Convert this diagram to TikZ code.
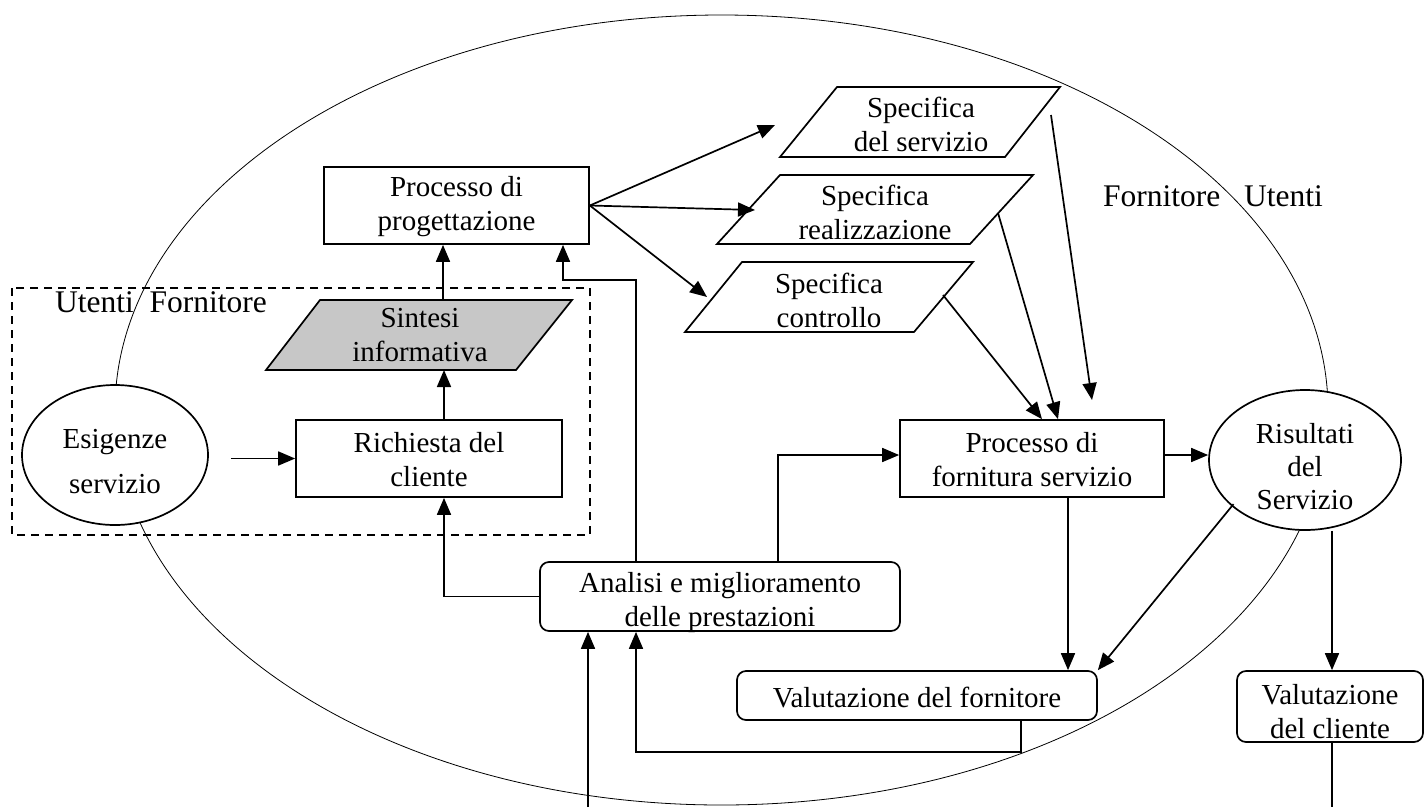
\documentclass[tikz,border=0pt]{standalone}
\usepackage{fontspec}
\setmainfont{Liberation Serif}
\usetikzlibrary{arrows.meta,shapes.geometric,calc}
\begin{document}
\begin{tikzpicture}[x=1pt,y=-1pt,
  font=\fontsize{29}{34}\selectfont,
  procbox/.style={draw,line width=1.7pt,rectangle,fill=white,inner sep=0pt},
  roundbox/.style={procbox,rounded corners=9pt},
  oval/.style={draw,line width=1.7pt,ellipse,fill=white,inner sep=0pt},
  para/.style={draw,line width=1.7pt,line join=miter},
  txt/.style={inner sep=0pt,align=center},
  biglbl/.style={inner sep=0pt,anchor=base west,font=\fontsize{31.5}{36}\selectfont},
  link/.style={line width=1.7pt},
  arr/.style={link,-{Triangle[length=17pt,width=14pt]}}
]
\useasboundingbox (0,0) rectangle (1424,807);

% outer boundary
\draw[line width=0.8pt] (721.5,410) ellipse [x radius=606.5pt, y radius=395pt];

% dashed region around the customer side
\draw[line width=1.5pt,dash pattern=on 8pt off 6pt] (12,288) rectangle (590,535);
\node[biglbl] (lblL) at (55,312) {Utenti\ \ Fornitore};
\node[biglbl] (lblR) at (1103,206) {Fornitore\ \ \ Utenti};

% main blocks
\node[procbox,minimum width=265pt,minimum height=77pt] (pp) at (456.5,205.5) {};
\node[txt] at ([yshift=-1pt]pp.center) {Processo di\\progettazione};
\node[procbox,minimum width=266pt,minimum height=77pt] (rc) at (429,458.5) {};
\node[txt] at ([yshift=-1pt]rc.center) {Richiesta del\\cliente};
\node[procbox,minimum width=264pt,minimum height=77pt] (pf) at (1032,458.5) {};
\node[txt] at ([yshift=-1pt]pf.center) {Processo di\\fornitura servizio};
\node[roundbox,minimum width=360pt,minimum height=69pt] (an) at (720,596.5) {};
\node[txt] at ([yshift=-6pt]an.center) {Analisi e miglioramento\\delle prestazioni};
\node[roundbox,minimum width=360pt,minimum height=49pt] (vf) at (917,695.5) {};
\node[txt] at ([yshift=-2pt]vf.center) {Valutazione del fornitore};
\node[roundbox,minimum width=186pt,minimum height=71pt] (vc) at (1330,706.5) {};
\node[txt] at ([yshift=-5pt]vc.center) {Valutazione\\del cliente};

\node[oval,minimum width=186pt,minimum height=140pt] (es) at (115,455) {};
\node[txt] at ([yshift=-7pt]es.center) {Esigenze\\[11pt]servizio};
\node[oval,minimum width=192pt,minimum height=140pt] (rs) at (1305,460) {};
\node[txt,font=\fontsize{29}{33}\selectfont] at ([yshift=-7pt]rs.center) {Risultati\\del\\Servizio};

% information documents (parallelograms)
\draw[para,fill=black!22] (320,300) -- (572,300) -- (516,370) -- (266,370) -- cycle;
\node[txt] (si) at (420,335) {Sintesi\\informativa};
\draw[para] (837,87) -- (1060,87) -- (1005,157) -- (780,157) -- cycle;
\node[txt] (ss) at (921,124) {Specifica\\del servizio};
\draw[para] (780,175) -- (1033,175) -- (970,244) -- (717,244) -- cycle;
\node[txt] (sr) at (875,212.5) {Specifica\\realizzazione};
\draw[para] (742,262) -- (973,262) -- (914,332) -- (685,332) -- cycle;
\node[txt] (sc) at (829,300) {Specifica\\controllo};

% connection points on the parallelograms
\coordinate (siN) at (443,300);
\coordinate (siS) at (444,370);
\coordinate (ssIn) at (775,125);
\coordinate (srIn) at (755,210);
\coordinate (scIn) at (707,297);
\coordinate (ssOut) at (1051,115);
\coordinate (srOut) at (998,213);
\coordinate (scOut) at (943,295);
\coordinate (bottomIn) at (588,807);
\coordinate (bottomOut) at (1332,807);

% flows
\draw[arr] (es.east |- rc.west) ++(22,0) -- (rc.west);
\draw[arr] (rc.north -| siS) -- (siS);
\draw[arr] (siN) -- (pp.south -| siN);
\draw[arr] (an.west) -| (rc.south -| siS);
\draw[arr] (an.north -| 636,0) |- (563,280) -- (pp.south -| 563,0);
\draw[arr] (an.north -| 778,0) |- (pf.west |- 0,455);
\draw[arr] (pp.east) -- (ssIn);
\draw[arr] (pp.east) -- (srIn);
\draw[arr] (pp.east) -- (scIn);
\draw[arr] (ssOut) -- (1092,400);
\draw[arr] (srOut) -- (pf.north -| 1058,0);
\draw[arr] (scOut) -- (pf.north -| 1042,0);
\draw[arr] (pf.east |- 0,455) -- (rs.west |- 0,455);
\draw[arr] (pf.south -| 1068,0) -- (vf.north -| 1068,0);
\draw[arr] (rs.south west) ++(-3,-6) -- (vf.north east);
\draw[arr] (rs.south -| 1332,0) -- (vc.north -| 1332,0);
\draw[link] (vc.south -| bottomOut) -- (bottomOut);
\draw[arr] (vf.south -| 1021,0) -- (1021,752) -| (an.south -| 636,0);
\draw[arr] (bottomIn) -- (an.south -| bottomIn);
\end{tikzpicture}
\end{document}
